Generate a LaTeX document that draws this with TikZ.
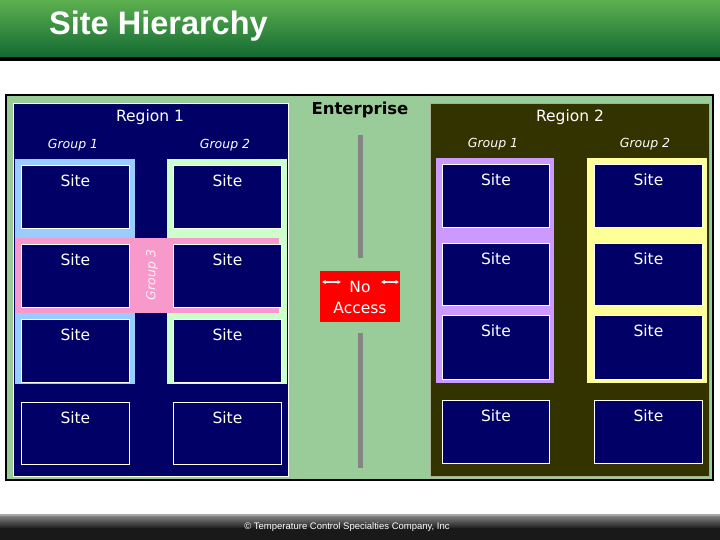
\documentclass[tikz,border=0pt]{standalone}
\usepackage{fontspec}
\setmainfont{DejaVu Sans}
\newfontfamily\titlefont{Liberation Sans}
\usetikzlibrary{arrows.meta}
\definecolor{navy}{HTML}{000066}
\definecolor{olive}{HTML}{333300}
\definecolor{entgreen}{HTML}{99CC99}
\definecolor{hdtop}{HTML}{5DB04F}
\definecolor{hdbot}{HTML}{126A33}
\definecolor{gOneA}{HTML}{99CCFF}
\definecolor{gTwoA}{HTML}{CCFFCC}
\definecolor{gThreeA}{HTML}{F79ACB}
\definecolor{gOneB}{HTML}{CC99FF}
\definecolor{gTwoB}{HTML}{FFFF99}
\definecolor{sepgray}{HTML}{858585}
\newcommand\sitebox[5]{%
  \node[sitebox, minimum width=#4pt, minimum height=#5pt] (#1) at (#2,#3) {};
  \node[sitetext] (#1t) at ([yshift=-16pt]#1.north) {Site};}
\begin{document}
\begin{tikzpicture}[x=1pt,y=-1pt,
  sitebox/.style={draw=white, line width=0.8pt, fill=navy, anchor=north west, inner sep=0pt},
  sitetext/.style={text=white, font=\fontsize{15.5}{18}\selectfont, inner sep=0pt},
  regtext/.style={text=white, font=\fontsize{15.5}{18}\selectfont, inner sep=0pt},
  grptext/.style={text=white, font=\itshape\fontsize{12.5}{15}\selectfont, inner sep=0pt},
  sepline/.style={draw=sepgray, line width=5pt},
  tinyarrow/.style={draw=white, line width=1.2pt, {Latex[length=3.5pt,width=4.5pt]}-{Latex[length=3.5pt,width=4.5pt]}}
]
\useasboundingbox (0,0) rectangle (720,540);
\fill[white] (0,0) rectangle (720,540);
% header
\shade[top color=hdtop, bottom color=hdbot] (0,0) rectangle (720,57);
\fill[black] (0,57) rectangle (720,61);
\node[anchor=west, text=white, font=\titlefont\bfseries\fontsize{32.5}{36}\selectfont, inner sep=0pt] (title) at (49,26) {Site Hierarchy};
% enterprise
\draw[fill=entgreen, draw=black, line width=2pt] (6,95) rectangle (713,480);
\node[font=\bfseries\fontsize{16.5}{19}\selectfont, inner sep=0pt] (ent) at (360,110) {Enterprise};
% region 1
\draw[fill=navy, draw=white, line width=0.8pt] (13,103) rectangle (288,476);
\node[regtext] (r1) at (150,117) {Region 1};
\node[grptext] (r1g1) at (73,145) {Group 1};
\node[grptext] (r1g2) at (225,145) {Group 2};
\fill[gOneA] (15,159) rectangle (135,384);
\fill[gTwoA] (167,159) rectangle (287,384);
\fill[gThreeA] (15,238) rectangle (279,313);
\node[grptext, rotate=90, text=white!85!gThreeA] (r1g3) at (152,275) {Group 3};
\sitebox{a11}{21}{165}{108}{63}
\sitebox{a12}{173}{165}{108}{63}
\sitebox{a21}{21}{244}{108}{63}
\sitebox{a22}{173}{244}{108}{63}
\sitebox{a31}{21}{319}{108}{63}
\sitebox{a32}{173}{319}{108}{63}
\sitebox{a41}{21}{402}{108}{62}
\sitebox{a42}{173}{402}{108}{62}
% region 2
\draw[fill=olive, draw=white!60!olive, line width=0.8pt] (430,103) rectangle (709,476);
\node[regtext] (r2) at (570,117) {Region 2};
\node[grptext] (r2g1) at (493,144) {Group 1};
\node[grptext] (r2g2) at (645,144) {Group 2};
\fill[gOneB] (436,158) rectangle (554,383);
\fill[gTwoB] (587,158) rectangle (707,383);
\sitebox{b11}{442}{164}{107}{63}
\sitebox{b12}{594}{164}{108}{63}
\sitebox{b21}{442}{243}{107}{62}
\sitebox{b22}{594}{243}{108}{62}
\sitebox{b31}{442}{315}{107}{64}
\sitebox{b32}{594}{315}{108}{64}
\sitebox{b41}{442}{400}{107}{63}
\sitebox{b42}{594}{400}{108}{63}
% no access
\node[fill=red, minimum width=80pt, minimum height=51pt, inner sep=0pt] (noacc) at (360,296.5) {};
\node[regtext] (nolbl) at (360,287) {No};
\node[regtext] (acclbl) at (360,308) {Access};
\coordinate (la) at (322,282); \coordinate (lb) at (341,282);
\coordinate (ra) at (381,282); \coordinate (rb) at (399,282);
\draw[tinyarrow] (la) -- (lb);
\draw[tinyarrow] (ra) -- (rb);
\coordinate (s1a) at (360,135); \coordinate (s1b) at (360,258);
\coordinate (s2a) at (360,333); \coordinate (s2b) at (360,468);
\draw[sepline] (s1a) -- (s1b);
\draw[sepline] (s2a) -- (s2b);
% footer
\fill[gray!70] (0,514) rectangle (720,516);
\shade[top color=black!50, bottom color=black!88] (0,516) rectangle (720,528);
\fill[black!90] (0,528) rectangle (720,540);
\node[text=white, font=\titlefont\fontsize{9.5}{11}\selectfont, inner sep=0pt] (foot) at (347,527) {© Temperature Control Specialties Company, Inc};
\end{tikzpicture}
\end{document}
